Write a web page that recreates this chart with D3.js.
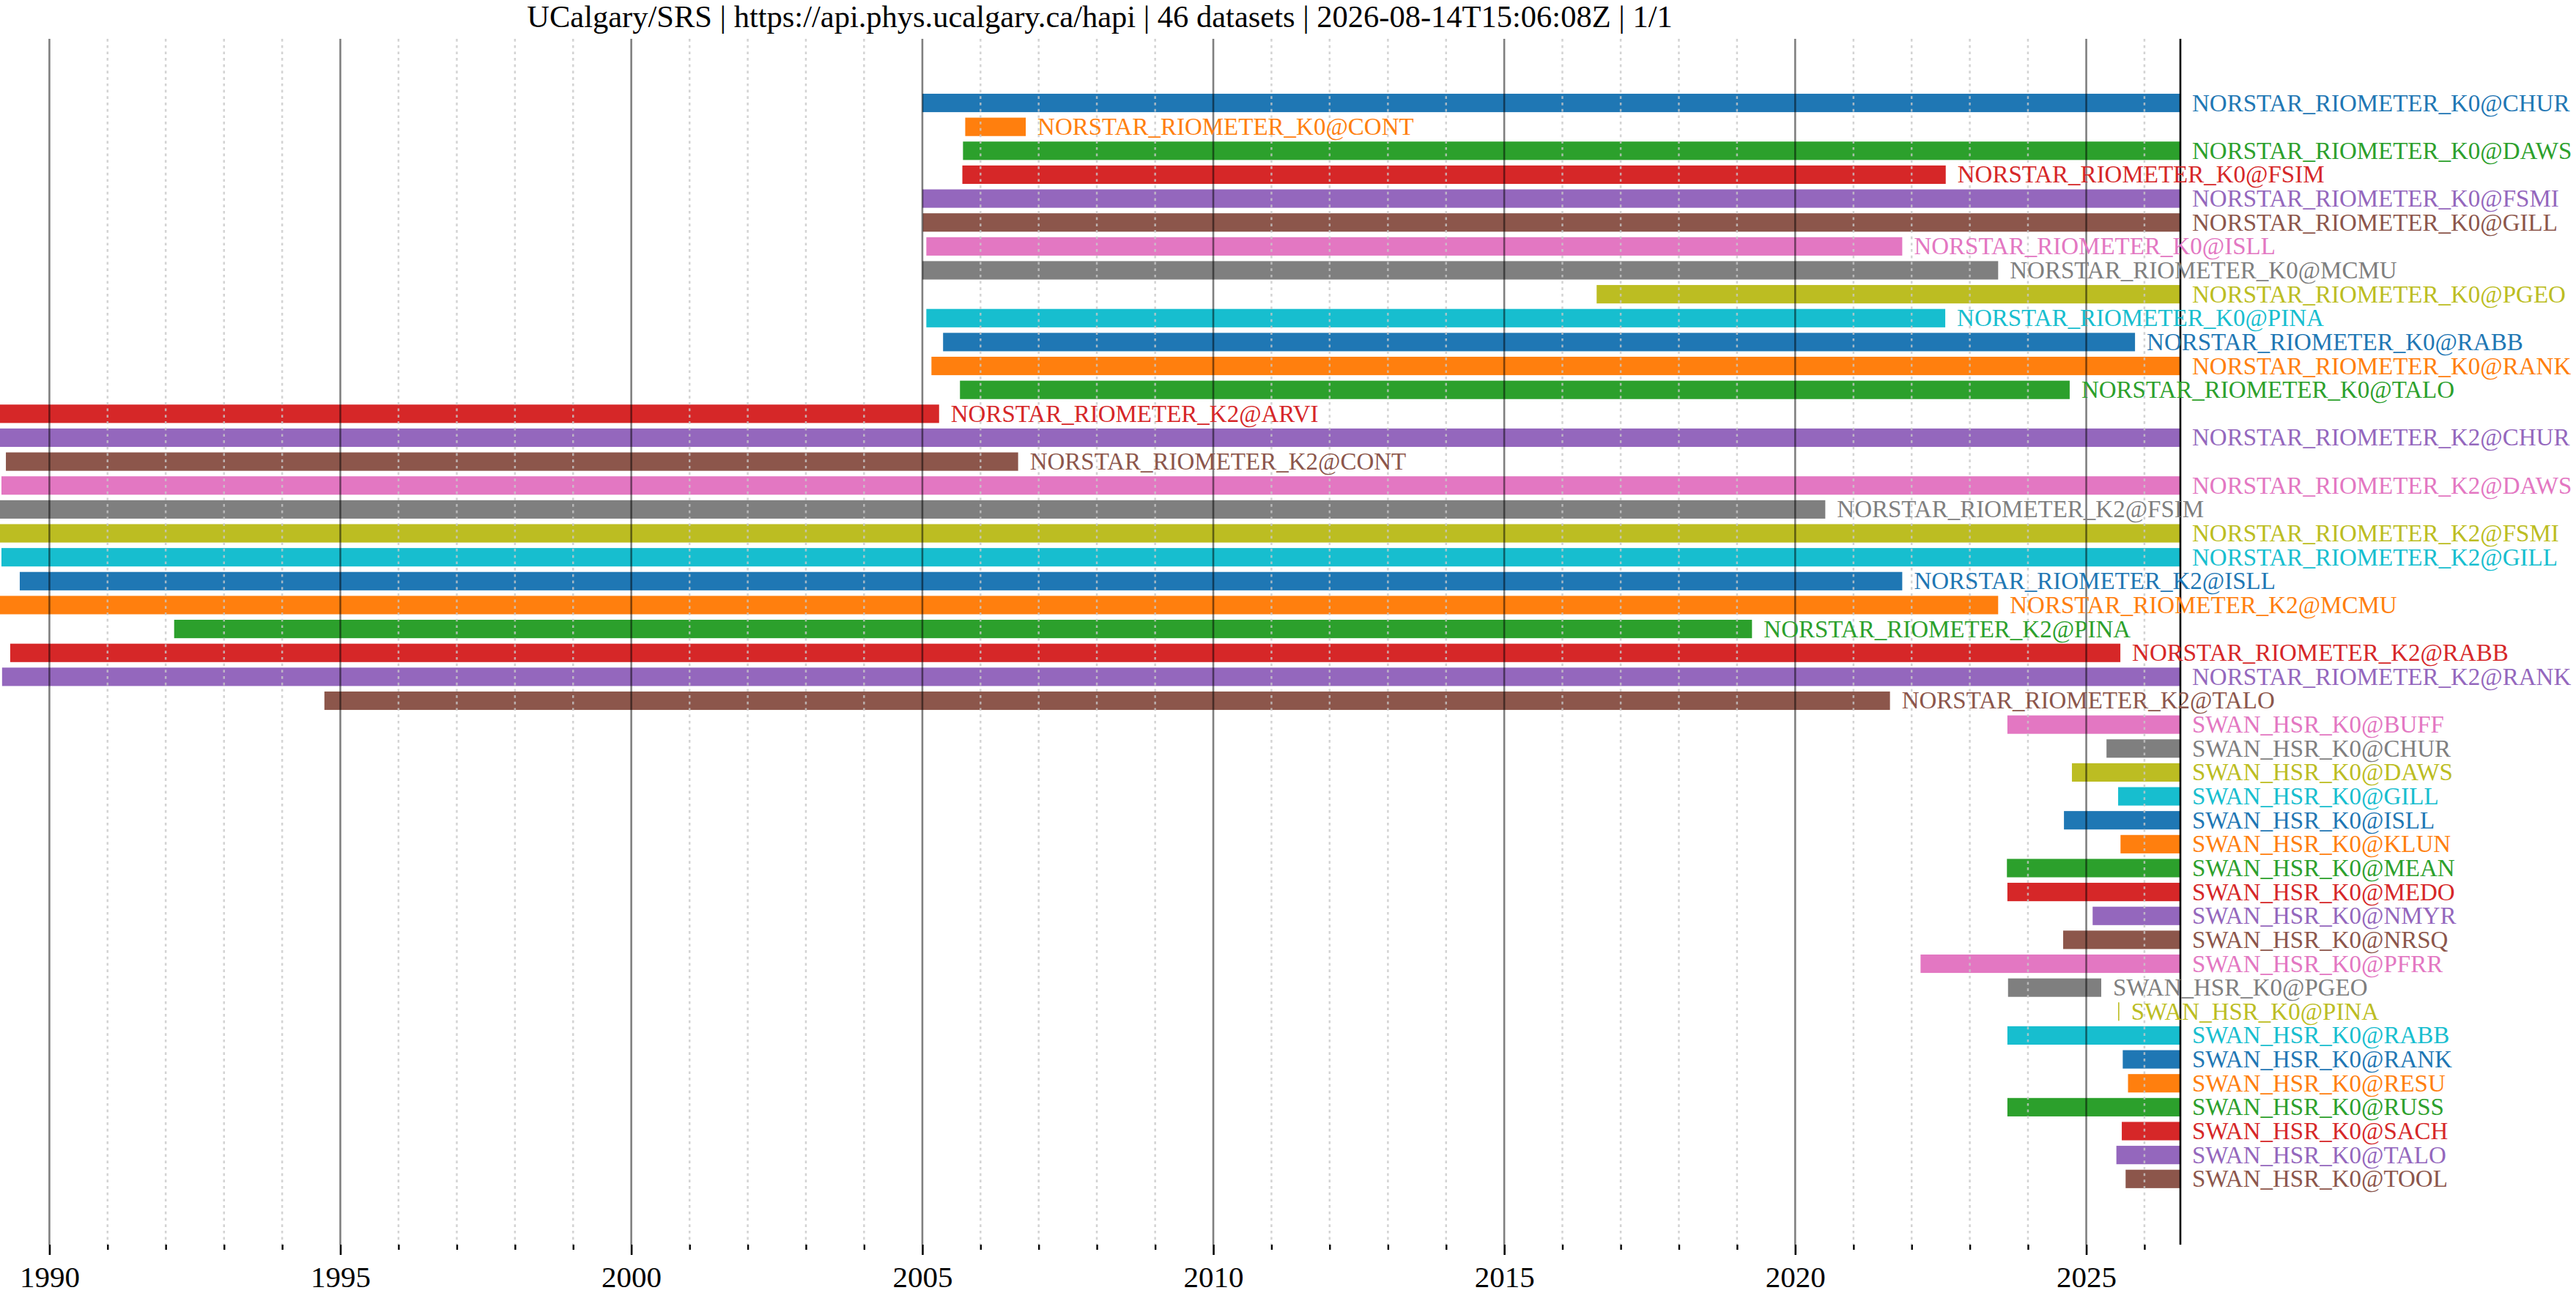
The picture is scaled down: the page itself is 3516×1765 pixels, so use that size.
<!DOCTYPE html>
<html><head><meta charset="utf-8">
<script src="https://cdn.jsdelivr.net/npm/d3@7"></script>
<style>html,body{margin:0;padding:0;background:#fff;overflow:hidden}svg{display:block}</style>
</head><body><svg id="c"></svg>
<script>
const TITLE = "UCalgary/SRS | https://api.phys.ucalgary.ca/hapi | 46 datasets | 2026-08-14T15:06:08Z | 1/1";
const NOW = "2026-08-14T15:06:08Z";
const DOMAIN_START = "1989-02-25";

const datasets = [
  "NORSTAR_RIOMETER_K0@CHUR","NORSTAR_RIOMETER_K0@CONT","NORSTAR_RIOMETER_K0@DAWS","NORSTAR_RIOMETER_K0@FSIM",
  "NORSTAR_RIOMETER_K0@FSMI","NORSTAR_RIOMETER_K0@GILL","NORSTAR_RIOMETER_K0@ISLL","NORSTAR_RIOMETER_K0@MCMU",
  "NORSTAR_RIOMETER_K0@PGEO","NORSTAR_RIOMETER_K0@PINA","NORSTAR_RIOMETER_K0@RABB","NORSTAR_RIOMETER_K0@RANK",
  "NORSTAR_RIOMETER_K0@TALO","NORSTAR_RIOMETER_K2@ARVI","NORSTAR_RIOMETER_K2@CHUR","NORSTAR_RIOMETER_K2@CONT",
  "NORSTAR_RIOMETER_K2@DAWS","NORSTAR_RIOMETER_K2@FSIM","NORSTAR_RIOMETER_K2@FSMI","NORSTAR_RIOMETER_K2@GILL",
  "NORSTAR_RIOMETER_K2@ISLL","NORSTAR_RIOMETER_K2@MCMU","NORSTAR_RIOMETER_K2@PINA","NORSTAR_RIOMETER_K2@RABB",
  "NORSTAR_RIOMETER_K2@RANK","NORSTAR_RIOMETER_K2@TALO","SWAN_HSR_K0@BUFF","SWAN_HSR_K0@CHUR",
  "SWAN_HSR_K0@DAWS","SWAN_HSR_K0@GILL","SWAN_HSR_K0@ISLL","SWAN_HSR_K0@KLUN",
  "SWAN_HSR_K0@MEAN","SWAN_HSR_K0@MEDO","SWAN_HSR_K0@NMYR","SWAN_HSR_K0@NRSQ",
  "SWAN_HSR_K0@PFRR","SWAN_HSR_K0@PGEO","SWAN_HSR_K0@PINA","SWAN_HSR_K0@RABB",
  "SWAN_HSR_K0@RANK","SWAN_HSR_K0@RESU","SWAN_HSR_K0@RUSS","SWAN_HSR_K0@SACH",
  "SWAN_HSR_K0@TALO","SWAN_HSR_K0@TOOL"
];

const starts = [
  "2005-01-01","2005-09-27","2005-09-13","2005-09-09",
  "2005-01-01","2005-01-04","2005-01-26","2005-01-01",
  "2016-08-03","2005-01-26","2005-05-11","2005-02-27",
  "2005-08-25","1989-02-25","1989-02-25","1989-04-03",
  "1989-03-06","1989-02-25","1989-02-25","1989-03-06",
  "1989-06-29","1989-02-25","1992-02-23","1989-04-30",
  "1989-03-10","1994-09-23","2023-08-25","2025-05-08",
  "2024-10-03","2025-07-20","2024-08-14","2025-08-04",
  "2023-08-22","2023-08-25","2025-02-10","2024-08-09",
  "2022-02-26","2023-08-29","2025-07-20","2023-08-25",
  "2025-08-18","2025-09-20","2023-08-25","2025-08-12",
  "2025-07-09","2025-09-05"
];

const ends = [
  NOW,"2006-10-12",NOW,"2022-08-03",
  NOW,NOW,"2021-11-03","2023-06-28",
  NOW,"2022-07-31","2025-11-03",NOW,
  "2024-09-19","2005-04-16",NOW,"2006-08-25",
  NOW,"2020-07-08",NOW,NOW,
  "2021-11-03","2023-06-28","2019-04-05","2025-08-03",
  NOW,"2021-08-18",NOW,NOW,
  NOW,NOW,NOW,NOW,
  NOW,NOW,NOW,NOW,
  NOW,"2025-04-05","2025-07-20",NOW,
  NOW,NOW,NOW,NOW,
  NOW,NOW
];

const majorTickLabels = ["1990","1995","2000","2005","2010","2015","2020","2025"];
const minorTickYears = [1991,1992,1993,1994,1996,1997,1998,1999,2001,2002,2003,2004,2006,2007,2008,2009,
  2011,2012,2013,2014,2016,2017,2018,2019,2021,2022,2023,2024,2026];

const W = 3516, H = 1765;
const plot = {left: 0, right: 2976, top: 53, bottom: 1699};
const FONT = "'Liberation Serif','Times New Roman',serif";

const svg = d3.select("#c").attr("width", W).attr("height", H)
  .style("font-family", FONT);
svg.append("rect").attr("width", W).attr("height", H).attr("fill", "#fff");

const x = d3.scaleUtc()
  .domain([new Date(DOMAIN_START), new Date(NOW)])
  .range([plot.left, plot.right]);
const y = d3.scalePoint().domain(datasets).range([124.2, 1625.6]).padding(0.5);
const barH = y.step() * 0.77;
const color = (i) => d3.schemeCategory10[i % 10];

const rows = datasets.map((name, i) => ({
  name, i, s: new Date(starts[i]), e: new Date(ends[i])
}));

// bars
svg.append("g").selectAll("rect").data(rows).join("rect")
  .attr("x", d => x(d.s))
  .attr("width", d => Math.max(x(d.e) - x(d.s), 1.6))
  .attr("y", d => y(d.name) - barH / 2)
  .attr("height", barH)
  .attr("fill", d => color(d.i));

// gridlines
const minorDates = minorTickYears.map(yr => new Date(Date.UTC(yr, 0, 1)));
const majorDates = majorTickLabels.map(s => new Date(Date.UTC(+s, 0, 1)));
const grid = svg.append("g");
grid.selectAll("line.minor").data(minorDates).join("line")
  .attr("class", "minor")
  .attr("x1", d => x(d)).attr("x2", d => x(d))
  .attr("y1", plot.top).attr("y2", plot.bottom)
  .attr("stroke", "#c8c8c8").attr("stroke-opacity", 0.8)
  .attr("stroke-width", 2.5).attr("stroke-dasharray", "3.7,5");
grid.selectAll("line.major").data(majorDates).join("line")
  .attr("class", "major")
  .attr("x1", d => x(d)).attr("x2", d => x(d))
  .attr("y1", plot.top).attr("y2", plot.bottom)
  .attr("stroke", "#000").attr("stroke-opacity", 0.5)
  .attr("stroke-width", 2.6);

// now line
svg.append("line")
  .attr("x1", x(new Date(NOW))).attr("x2", x(new Date(NOW)))
  .attr("y1", plot.top).attr("y2", plot.bottom)
  .attr("stroke", "#000").attr("stroke-width", 2.6);

// labels
svg.append("g").selectAll("text").data(rows).join("text")
  .attr("x", d => Math.max(x(d.e), x(d.s) + 1.6) + 16)
  .attr("y", d => y(d.name) + 11)
  .attr("fill", d => color(d.i))
  .attr("font-size", 33)
  .text(d => d.name);

// axes
const axMinor = svg.append("g").attr("transform", `translate(0,${plot.bottom})`)
  .call(d3.axisBottom(x).tickValues(minorDates).tickSize(7).tickFormat(""));
axMinor.select(".domain").remove();
axMinor.selectAll(".tick line").attr("stroke", "#000").attr("stroke-width", 2.4);

const axMajor = svg.append("g").attr("transform", `translate(0,${plot.bottom})`)
  .call(d3.axisBottom(x).tickValues(majorDates).tickSize(14).tickPadding(15)
    .tickFormat((d, i) => majorTickLabels[i]));
axMajor.select(".domain").remove();
axMajor.selectAll(".tick line").attr("stroke", "#000").attr("stroke-width", 2.6);
axMajor.selectAll(".tick text").attr("font-size", 41).attr("font-family", FONT).attr("fill", "#000");

// title
svg.append("text")
  .attr("x", 1501).attr("y", 37)
  .attr("text-anchor", "middle")
  .attr("font-size", 42.5)
  .attr("fill", "#000")
  .text(TITLE);
</script>
</body></html>
